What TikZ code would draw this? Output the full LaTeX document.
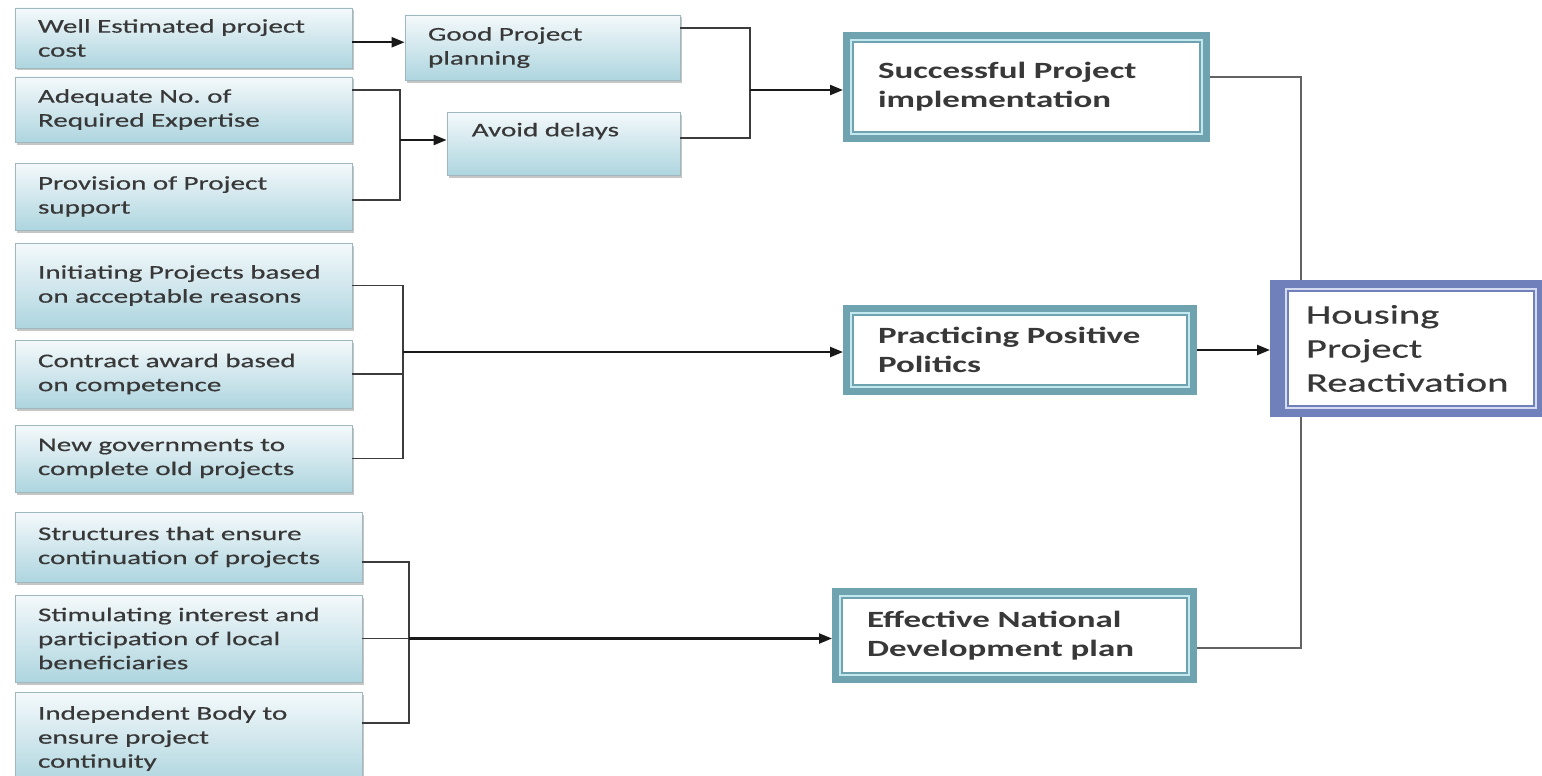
\documentclass[tikz,border=0pt]{standalone}
\usepackage{fontspec}
\newfontfamily\labelfont{Carlito}[FakeStretch=1.5]
\newfontfamily\plainfont{Carlito}[FakeStretch=1.5,FakeBold=0.4]
\usetikzlibrary{arrows.meta,calc,shadows}

\definecolor{boxtop}{HTML}{F4F9FB}
\definecolor{boxbot}{HTML}{AED5DF}
\definecolor{boxedge}{HTML}{9FB8C0}
\definecolor{tealband}{HTML}{6FA3AF}
\definecolor{tealgap}{HTML}{C4E8EF}
\definecolor{blueband}{HTML}{6F80BA}
\definecolor{bluegap}{HTML}{D5DBF0}
\definecolor{inktext}{HTML}{383838}
\definecolor{wire}{HTML}{3C3C3C}

\begin{document}
\begin{tikzpicture}[x=1pt,y=-1pt,
  factor/.style 2 args={draw=boxedge, line width=0.8pt, top color=boxtop, bottom color=boxbot,
    minimum width=#1, minimum height=#2, text width=#1-46, inner sep=0pt, align=left,
    font=\plainfont\fontsize{19.4}{24}\selectfont, text=inktext,
    drop shadow={shadow xshift=1.5pt, shadow yshift=-2.5pt, opacity=0.45}},
  outcome/.style 2 args={draw=tealband, line width=7pt, fill=white,
    minimum width=#1-7, minimum height=#2-7, text width=#1-70, inner sep=0pt, align=left,
    font=\labelfont\bfseries\fontsize{23.3}{29}\selectfont, text=inktext},
  goal/.style 2 args={draw=blueband, line width=8pt, fill=white,
    minimum width=#1-8, minimum height=#2-8, text width=203, inner sep=0pt, align=left,
    font=\plainfont\fontsize{27}{34}\selectfont, text=inktext},
  link/.style={draw=wire, line width=1.9pt},
  feed/.style={draw=wire!80!white, line width=2.4pt},
  push/.style={draw=black!90, line width=2.3pt, -{Triangle[length=13pt,width=10pt]}},
]
\useasboundingbox (0,0) rectangle (1542,776);
\fill[white] (0,0) rectangle (1542,776);

% contributing factors
\node[factor={337}{60}] (wec) at (183.5,38) {Well Estimated project\\cost};
\node[factor={337}{65}] (ade) at (183.5,109.5) {Adequate No.\ of\\Required Expertise};
\node[factor={337}{67}] (pps) at (183.5,196.5) {Provision of Project\\support};
\node[factor={337}{85}] (ini) at (183.5,285.5) {Initiating Projects based\\on acceptable reasons};
\node[factor={337}{68}] (con) at (183.5,374) {Contract award based\\on competence};
\node[factor={337}{67}] (new) at (183.5,458.5) {New governments to\\complete old projects};
\node[factor={347}{70}] (str) at (188.5,547) {Structures that ensure\\continuation of projects};
\node[factor={347}{87}] (sti) at (188.5,638.5) {Stimulating interest and\\participation of local\\beneficiaries};
\node[factor={347}{93}] (ind) at (188.5,738.5) {Independent Body to\\ensure project\\continuity};

% intermediate factors
\node[factor={275}{65}] (gpp) at (542.5,47.5) {Good Project\\planning};
\node[factor={233}{63}] (avd) at (563.5,143.5) {};
\node[anchor=north west, inner sep=0pt, font=\plainfont\fontsize{19.4}{24}\selectfont, text=inktext]
  (avdtext) at ([shift={(25,11)}]avd.north west) {Avoid delays};

% outcomes
\node[outcome={367}{110}] (spi) at (1026.5,87) {Successful Project\\implementation};
\node[outcome={354}{90}] (ppp) at (1020,350) {Practicing Positive\\Politics};
\node[outcome={365}{95}] (eff) at (1014.5,635.5) {Effective National\\Development plan};

% goal
\node[goal={275}{137}] (hpr) at (1407.5,348.5) {Housing\\Project\\Reactivation};

% inner rules of the framed boxes
\foreach \n in {spi,ppp,eff}{
  \draw[tealgap, line width=2.5pt] ([shift={(8.2,8.2)}]\n.north west) rectangle ([shift={(-8.2,-8.2)}]\n.south east);
  \draw[tealband, line width=1.1pt] ([shift={(10,10)}]\n.north west) rectangle ([shift={(-10,-10)}]\n.south east);
}
\fill[blueband] (hpr.north west) rectangle ([shift={(15,0)}]hpr.south west);
\draw[bluegap, line width=2.5pt] ([shift={(16.3,9.3)}]hpr.north west) rectangle ([shift={(-9.3,-9.3)}]hpr.south east);
\draw[blueband, line width=1.1pt] ([shift={(18,11)}]hpr.north west) rectangle ([shift={(-11,-11)}]hpr.south east);

% junctions and connector ends
\coordinate (j1) at (400,140);
\coordinate (j2) at (750,90);
\coordinate (j3) at (403,352);
\coordinate (j4) at (409,640);
\coordinate (rx) at (1301,0);
\coordinate (wecout) at ($(wec.north east)!0.57!(wec.south east)$);

% first group
\draw[push] (wecout) -- (wecout -| gpp.west);
\draw[link] ($(ade.north east)!0.2!(ade.south east)$) -| (j1) |- ($(pps.north east)!0.55!(pps.south east)$);
\draw[push] (j1) -- (j1 -| avd.west);
\draw[link] ($(gpp.north east)!0.2!(gpp.south east)$) -| (j2) |- ($(avd.north east)!0.41!(avd.south east)$);
\draw[push] (j2) -- (j2 -| spi.west);

% second group
\draw[link] (ini.east) -| (j3) |- (new.east);
\draw[link] (con.east) -- (con.east -| j3);
\draw[push] (j3) -- (j3 -| ppp.west);

% third group
\draw[link] ($(str.north east)!0.71!(str.south east)$) -| (j4) |- ($(ind.north east)!0.33!(ind.south east)$);
\draw[link] (sti.east) -- (sti.east -| j4);
\draw[push] (sti.east -| j4) -- (sti.east -| eff.west);

% outcomes into the goal
\draw[feed] ($(spi.north east)!0.41!(spi.south east)$) -| (rx |- hpr.north);
\draw[feed] (rx |- hpr.south) |- ($(eff.north east)!0.63!(eff.south east)$);
\draw[push] (ppp.east) -- (ppp.east -| hpr.west);
\end{tikzpicture}
\end{document}
